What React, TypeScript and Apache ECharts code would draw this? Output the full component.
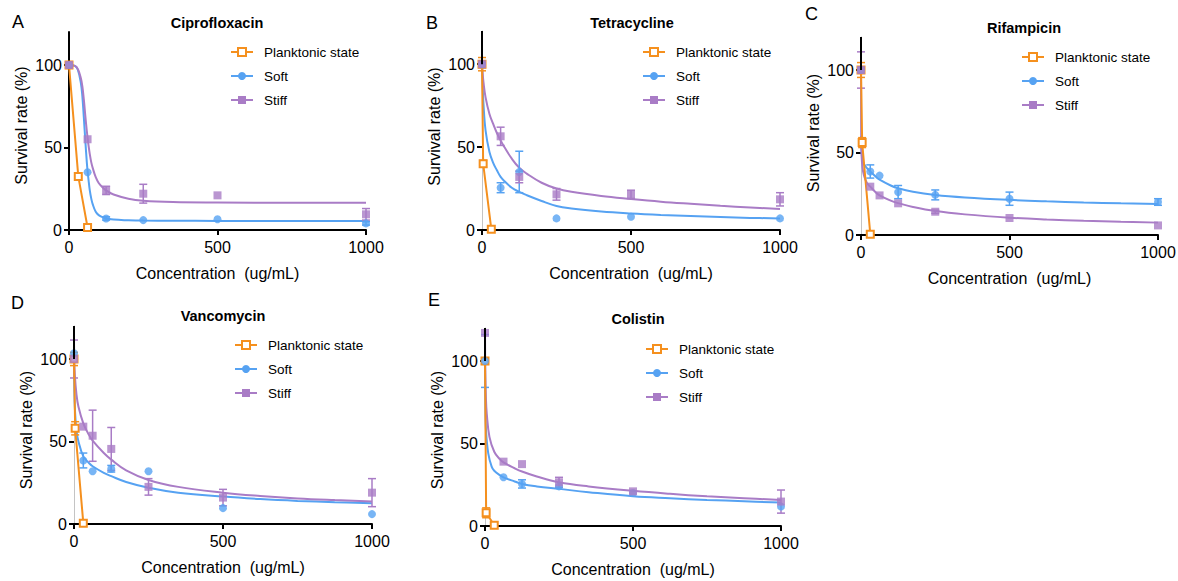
import { useEffect, useRef } from "react";
import * as echarts from "echarts";

// ---------- labels ----------
const SERIES_NAMES = ["Planktonic state", "Soft", "Stiff"];
const PANEL_LETTERS = ["A", "B", "C", "D", "E"];
const DRUGS = ["Ciprofloxacin", "Tetracycline", "Rifampicin", "Vancomycin", "Colistin"];
const X_TICKS = [0, 500, 1000];
const Y_TICKS = [0, 50, 100];
const X_NAME = "Concentration  (ug/mL)";
const Y_NAME = "Survival rate (%)";

// concentrations (ug/mL) of biofilm measurements
const CONC = [0, 31.25, 62.5, 125, 250, 500, 1000];

// ---------- A: Ciprofloxacin ----------
const ciproPlankX = [0, 31.25, 62.5];
const ciproPlankY = [100, 32.5, 1.5];
const ciproPlankErr = [2, 0, 0];
const ciproSoft = [100, null, 35, 7, 6, 6.5, 4];
const ciproSoftErr = [0, null, 0, 1, 0, 0, 1];
const ciproStiff = [100, null, 55, 24, 22, 21, 9.5];
const ciproStiffErr = [2, null, 0, 2.5, 5.7, 0, 3.5];
const ciproSoftFit = [[0, 100], [20, 99.5], [30, 97], [40, 89], [45, 81], [50, 68], [55, 54], [60, 41], [62.5, 36], [66, 30], [70, 24], [75, 19], [80, 15.5], [90, 11], [100, 9], [115, 7.6], [125, 7.1], [150, 6.3], [200, 5.9], [250, 5.7], [350, 5.6], [500, 5.5], [750, 5.5], [1000, 5.5]];
const ciproStiffFit = [[0, 100], [20, 99.5], [30, 97.5], [40, 92], [45, 87], [50, 79], [55, 69], [60, 60], [62.5, 56], [66, 51], [70, 46], [75, 41], [80, 37.5], [90, 32], [100, 28.5], [115, 25.5], [125, 24], [150, 21.5], [200, 19], [250, 17.8], [350, 17], [500, 16.7], [750, 16.5], [1000, 16.5]];

// ---------- B: Tetracycline ----------
const tetraPlankX = [0, 3.9, 31.25];
const tetraPlankY = [100, 40, 0.5];
const tetraPlankErr = [4, 2, 0];
const tetraSoft = [100, null, 25.5, 35, 7, 8, 7];
const tetraSoftErr = [0, null, 3, 12.5, 0, 0, 0];
const tetraStiff = [100, null, 56.5, 32, 21.5, 21.5, 18.5];
const tetraStiffErr = [2, null, 5.5, 3.5, 3.5, 2.5, 4];
const tetraSoftFit = [[0, 100], [2, 88], [5, 76], [12, 60], [25, 47], [37.5, 40.5], [50, 36], [62.5, 32], [75, 29.5], [100, 25.5], [125, 23], [150, 21], [200, 17.5], [250, 14.5], [300, 13], [400, 11.2], [500, 10], [600, 9.1], [700, 8.4], [800, 7.8], [900, 7.3], [1000, 7]];
const tetraStiffFit = [[0, 100], [2, 95], [5, 89], [12, 80], [25, 70], [37.5, 64], [50, 58.5], [62.5, 54], [75, 50], [100, 43], [125, 37.5], [150, 34], [200, 28.5], [250, 25], [300, 23], [400, 20.5], [500, 18.7], [600, 17.1], [700, 15.8], [800, 14.6], [900, 13.6], [1000, 12.7]];

// ---------- C: Rifampicin ----------
const rifPlankX = [0, 3.9, 31.25];
const rifPlankY = [100, 56, 0.5];
const rifPlankErr = [4.5, 3, 0];
const rifSoft = [100, 38.5, 36, 26, 24.3, 22, 20];
const rifSoftErr = [0, 4, 0, 4, 3, 4, 2];
const rifStiff = [100, 29.3, 24, 19.2, 14.1, 10.3, 5.8];
const rifStiffErr = [11, 0, 0, 0, 1, 0, 0];
const rifSoftFit = [[0, 60], [0.5, 55], [2, 50], [5, 46], [10, 43], [20, 40.5], [31.25, 38.5], [50, 35.3], [62.5, 33.5], [100, 30], [125, 28.3], [175, 26.2], [250, 24.3], [350, 22.8], [500, 21.3], [625, 20.4], [750, 19.7], [875, 19.2], [1000, 18.8]];
const rifStiffFit = [[0, 110], [0.5, 60], [2, 48], [5, 41], [10, 36], [20, 31.5], [31.25, 29.3], [50, 25.8], [62.5, 24], [100, 20.8], [125, 19.3], [175, 17], [250, 14.5], [350, 12.5], [500, 10.5], [625, 9.4], [750, 8.6], [875, 8], [1000, 7.5]];

// ---------- D: Vancomycin ----------
const vancPlankX = [0, 3.9, 31.25];
const vancPlankY = [100, 58, 0.5];
const vancPlankErr = [4, 4, 0];
const vancSoft = [103.5, 38.5, 32, 33.5, 32, 9.6, 6];
const vancSoftErr = [0, 4.5, 0, 2, 0, 0, 0];
const vancStiff = [100, 59, 53.5, 45.5, 22.5, 16, 19];
const vancStiffErr = [11.5, 0, 15.5, 13, 5, 5, 8.5];
const vancSoftFit = [[0, 95], [1, 82], [3, 70], [8, 57], [15, 50], [31.25, 41], [50, 37], [62.5, 35], [100, 31], [125, 29], [175, 25.5], [250, 22], [350, 19], [500, 16.6], [625, 15.1], [750, 14], [875, 13.2], [1000, 12.6]];
const vancStiffFit = [[0, 112], [1, 100], [3, 90], [8, 79], [15, 71], [31.25, 61], [50, 54], [62.5, 50.5], [100, 43], [125, 39], [175, 32.5], [250, 26.7], [350, 22.5], [500, 19], [625, 17], [750, 15.5], [875, 14.5], [1000, 13.7]];

// ---------- E: Colistin ----------
const colPlankX = [0, 3.9, 31.25];
const colPlankY = [100, 8, 0.5];
const colPlankErr = [2, 3, 0];
const colSoft = [100, null, 29.5, 25.5, 24, 20, 11.8];
const colSoftErr = [16, null, 0, 2.5, 0, 0, 0];
const colStiff = [117, null, 39, 37.5, 26.5, 21, 14.8];
const colStiffErr = [0, null, 0, 0, 3, 0, 7];
const colSoftFit = [[0, 100], [1, 75], [3.4, 58], [11, 44], [22.5, 36], [31.25, 33.5], [50, 30.8], [62.5, 29.5], [100, 27], [125, 25.5], [175, 24], [250, 22.5], [350, 20.5], [500, 18], [625, 16.8], [750, 15.8], [875, 15], [1000, 14.2]];
const colStiffFit = [[0, 118], [1, 95], [3, 78], [6, 68], [15, 54], [31.25, 45], [50, 40.5], [62.5, 38.5], [100, 35], [125, 33], [175, 30], [250, 26.5], [350, 24], [500, 21.3], [625, 19.5], [750, 18], [875, 16.8], [1000, 15.8]];

const PANEL_DATA = [
  { plankX: ciproPlankX, plankY: ciproPlankY, plankErr: ciproPlankErr, soft: ciproSoft, softErr: ciproSoftErr, stiff: ciproStiff, stiffErr: ciproStiffErr, softFit: ciproSoftFit, stiffFit: ciproStiffFit },
  { plankX: tetraPlankX, plankY: tetraPlankY, plankErr: tetraPlankErr, soft: tetraSoft, softErr: tetraSoftErr, stiff: tetraStiff, stiffErr: tetraStiffErr, softFit: tetraSoftFit, stiffFit: tetraStiffFit },
  { plankX: rifPlankX, plankY: rifPlankY, plankErr: rifPlankErr, soft: rifSoft, softErr: rifSoftErr, stiff: rifStiff, stiffErr: rifStiffErr, softFit: rifSoftFit, stiffFit: rifStiffFit },
  { plankX: vancPlankX, plankY: vancPlankY, plankErr: vancPlankErr, soft: vancSoft, softErr: vancSoftErr, stiff: vancStiff, stiffErr: vancStiffErr, softFit: vancSoftFit, stiffFit: vancStiffFit },
  { plankX: colPlankX, plankY: colPlankY, plankErr: colPlankErr, soft: colSoft, softErr: colSoftErr, stiff: colStiff, stiffErr: colStiffErr, softFit: colSoftFit, stiffFit: colStiffFit },
];

// ---------- layout (positions / styles) ----------
const LAYOUT = [
  { grid: { left: 69, top: 32, width: 297, height: 198 }, letter: [12, 12.5], title: [217, 15], legend: [230, 45], yShift: 5.5, blackAxis: true },
  { grid: { left: 482, top: 31, width: 298, height: 199 }, letter: [426, 14], title: [632, 15.5], legend: [642, 45], yShift: 4, blackAxis: false },
  { grid: { left: 861, top: 37, width: 297, height: 198 }, letter: [805, 5], title: [1024, 20], legend: [1021, 50], yShift: 3, blackAxis: false },
  { grid: { left: 74, top: 326, width: 298, height: 198 }, letter: [11, 294], title: [223, 308.5], legend: [234, 338], yShift: -5, blackAxis: false },
  { grid: { left: 485, top: 328, width: 296, height: 198 }, letter: [428, 291], title: [638, 311], legend: [645, 342], yShift: -3, blackAxis: false },
];

const COLORS = { plank: "#f5901e", soft: "#56a2f2", stiff: "#a97cc6" };
const FONT = "'Liberation Sans', Arial, Helvetica, sans-serif";

function pairs(xs: number[], ys: (number | null)[]) {
  const out: number[][] = [];
  xs.forEach((x, k) => {
    const y = ys[k];
    if (y != null) out.push([x, y]);
  });
  return out;
}
function errTriples(xs: number[], ys: (number | null)[], es: (number | null)[]) {
  const out: number[][] = [];
  xs.forEach((x, k) => {
    const y = ys[k];
    const e = es[k];
    if (y != null && e) out.push([x, y, e]);
  });
  return out;
}

function errorSeries(name: string, color: string, data: number[][], idx: number) {
  return {
    type: "custom",
    name,
    xAxisIndex: idx,
    yAxisIndex: idx,
    data,
    silent: true,
    z: 3,
    encode: { x: 0, y: 1 },
    renderItem: (_params: any, api: any) => {
      const x = api.value(0);
      const y = api.value(1);
      const e = api.value(2);
      const t = api.coord([x, y + e]);
      const b = api.coord([x, y - e]);
      const w = 4;
      const st = { stroke: color, lineWidth: 1.5 };
      return {
        type: "group",
        children: [
          { type: "line", shape: { x1: t[0], y1: t[1], x2: b[0], y2: b[1] }, style: st },
          { type: "line", shape: { x1: t[0] - w, y1: t[1], x2: t[0] + w, y2: t[1] }, style: st },
          { type: "line", shape: { x1: b[0] - w, y1: b[1], x2: b[0] + w, y2: b[1] }, style: st },
        ],
      };
    },
  };
}

function buildOption() {
  const title: any[] = [];
  const grid: any[] = [];
  const xAxis: any[] = [];
  const yAxis: any[] = [];
  const legend: any[] = [];
  const series: any[] = [];
  const plainNum = (v: number) => String(v);

  LAYOUT.forEach((L, i) => {
    const D = PANEL_DATA[i];
    title.push({
      text: PANEL_LETTERS[i], left: L.letter[0], top: L.letter[1], padding: 0,
      textStyle: { fontSize: 18, fontWeight: "normal", color: "#000", fontFamily: FONT },
    });
    title.push({
      text: DRUGS[i], left: L.title[0], top: L.title[1], padding: 0, textAlign: "center",
      textStyle: { fontSize: 14.5, fontWeight: "bold", color: "#000", fontFamily: FONT },
    });
    grid.push({ ...L.grid, containLabel: false, outerBoundsMode: "none" });
    xAxis.push({
      type: "value", gridIndex: i, min: 0, max: 1000,
      name: X_NAME, nameLocation: "middle", nameGap: 35,
      nameTextStyle: { fontSize: 16, color: "#000", fontFamily: FONT },
      axisLine: { show: true, onZero: false, lineStyle: { color: "#000", width: 2 } },
      axisTick: { show: true, length: 5, lineStyle: { color: "#000", width: 2 }, customValues: X_TICKS },
      axisLabel: { customValues: X_TICKS, formatter: plainNum, fontSize: 16, color: "#000", margin: 9, fontFamily: FONT },
      splitLine: { show: false },
    });
    const s = L.yShift;
    yAxis.push({
      type: "value", gridIndex: i, min: 0, max: 120,
      name: Y_NAME, nameLocation: "middle", nameGap: 40, nameRotate: 90,
      nameTextStyle: {
        fontSize: 16, color: "#000", fontFamily: FONT,
        padding: s > 0 ? [0, 0, 0, 2 * s] : [0, -2 * s, 0, 0],
      },
      axisLine: { show: true, onZero: false, lineStyle: { color: L.blackAxis ? "#000" : "#c4c4c4", width: L.blackAxis ? 2 : 1 } },
      axisTick: { show: true, length: 5, lineStyle: { color: "#000", width: 2 }, customValues: Y_TICKS },
      axisLabel: { customValues: Y_TICKS, formatter: plainNum, fontSize: 16, color: "#000", margin: 7, fontFamily: FONT },
      splitLine: { show: false },
    });
    legend.push({
      orient: "vertical", left: L.legend[0], top: L.legend[1], padding: 0,
      itemWidth: 22, itemHeight: 10, itemGap: 10, selectedMode: false,
      textStyle: { fontSize: 13.5, color: "#000", fontFamily: FONT, padding: [0, 0, 0, 6] },
      data: [
        { name: SERIES_NAMES[0], itemStyle: { color: "#fff", borderColor: COLORS.plank, borderWidth: 2 } },
        { name: SERIES_NAMES[1] },
        { name: SERIES_NAMES[2] },
      ],
    });

    // fitted curves
    series.push({
      type: "line", name: SERIES_NAMES[1], xAxisIndex: i, yAxisIndex: i, data: D.softFit,
      smooth: 0.4, symbol: "circle", symbolSize: 8, showSymbol: false,
      lineStyle: { color: COLORS.soft, width: 2 }, itemStyle: { color: COLORS.soft }, silent: true, z: 2,
    });
    series.push({
      type: "line", name: SERIES_NAMES[2], xAxisIndex: i, yAxisIndex: i, data: D.stiffFit,
      smooth: 0.4, symbol: "rect", symbolSize: 8, showSymbol: false,
      lineStyle: { color: COLORS.stiff, width: 2 }, itemStyle: { color: COLORS.stiff }, silent: true, z: 2,
    });
    // planktonic state (connected)
    const plank: any = {
      type: "line", name: SERIES_NAMES[0], xAxisIndex: i, yAxisIndex: i,
      data: pairs(D.plankX, D.plankY),
      symbol: "rect", symbolSize: 7, showSymbol: true,
      lineStyle: { color: COLORS.plank, width: 2 },
      itemStyle: { color: "#fff", borderColor: COLORS.plank, borderWidth: 2 },
      silent: true, z: 3,
    };
    if (!L.blackAxis) {
      plank.markLine = {
        silent: true, symbol: ["none", "none"], label: { show: false },
        lineStyle: { color: "#000", width: 2, type: "solid" },
        data: [[{ coord: [0, 100] }, { coord: [0, 120] }]],
      };
    }
    series.push(plank);
    // error bars
    series.push(errorSeries(SERIES_NAMES[0], COLORS.plank, errTriples(D.plankX, D.plankY, D.plankErr), i));
    series.push(errorSeries(SERIES_NAMES[1], COLORS.soft, errTriples(CONC, D.soft, D.softErr), i));
    series.push(errorSeries(SERIES_NAMES[2], COLORS.stiff, errTriples(CONC, D.stiff, D.stiffErr), i));
    // data points
    series.push({
      type: "scatter", name: SERIES_NAMES[1], xAxisIndex: i, yAxisIndex: i,
      data: pairs(CONC, D.soft), symbol: "circle", symbolSize: 8,
      itemStyle: { color: COLORS.soft }, silent: true, z: 4,
    });
    series.push({
      type: "scatter", name: SERIES_NAMES[2], xAxisIndex: i, yAxisIndex: i,
      data: pairs(CONC, D.stiff), symbol: "rect", symbolSize: 8,
      itemStyle: { color: COLORS.stiff }, silent: true, z: 4,
    });
  });

  return {
    animation: false,
    backgroundColor: "#fff",
    textStyle: { fontFamily: FONT },
    title, grid, xAxis, yAxis, legend, series,
  };
}

export default function App() {
  const ref = useRef<HTMLDivElement>(null);
  useEffect(() => {
    if (!ref.current) return;
    const chart = echarts.init(ref.current, undefined, { renderer: "svg" });
    chart.setOption(buildOption() as any);
    return () => chart.dispose();
  }, []);
  return <div ref={ref} style={{ position: "absolute", left: 0, top: 0, width: 1178, height: 581 }} />;
}
